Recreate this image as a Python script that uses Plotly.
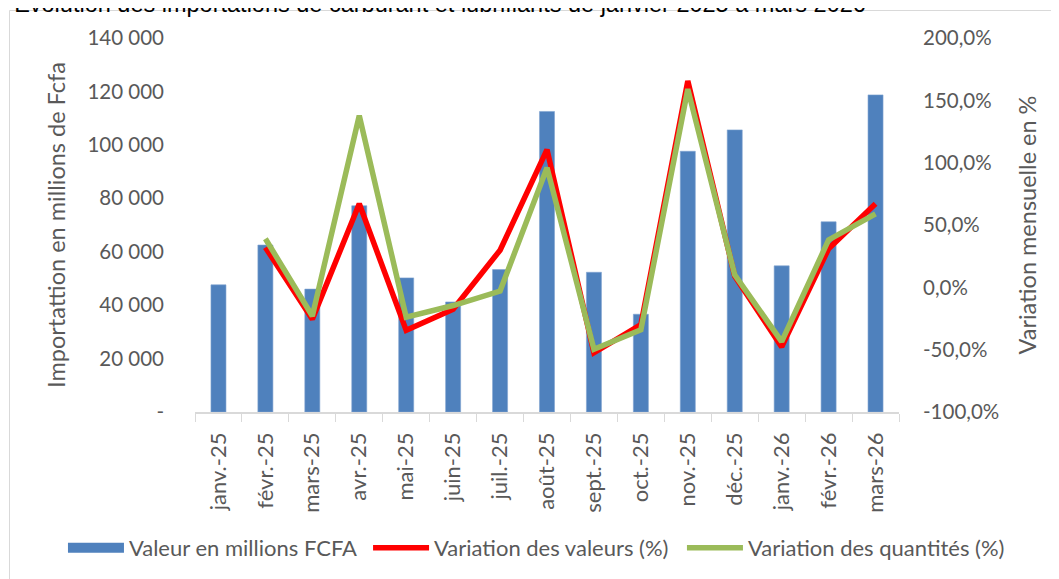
import plotly.graph_objects as go

months = ['janv.-25', 'févr.-25', 'mars-25', 'avr.-25', 'mai-25', 'juin-25', 'juil.-25',
          'août-25', 'sept.-25', 'oct.-25', 'nov.-25', 'déc.-25', 'janv.-26', 'févr.-26', 'mars-26']

# valeur des importations (millions FCFA)
valeurs = [47600, 62500, 46000, 77200, 50200, 41200, 53300,
           112500, 52300, 36600, 97600, 105600, 54700, 71200, 118700]

# variations mensuelles (%)
var_valeurs = [None, 32, -25.5, 67, -34.5, -17.5, 29.8,
               110.5, -52.5, -30, 165.5, 9, -47.8, 31, 67]
var_quantites = [None, 39, -23, 137.8, -24, -14.6, -3,
                 96, -49.6, -34, 159, 10, -43.5, 38, 59]

left_tickvals = [0, 20000, 40000, 60000, 80000, 100000, 120000, 140000]
left_ticktext = ['-', '20 000', '40 000', '60 000', '80 000', '100 000', '120 000', '140 000']
right_tickvals = [-100, -50, 0, 50, 100, 150, 200]
right_ticktext = ['-100,0%', '-50,0%', '0,0%', '50,0%', '100,0%', '150,0%', '200,0%']

BAR_COLOR = '#4F81BD'
RED = '#FF0000'
GREEN = '#9BBB59'
TEXT_COLOR = '#595959'
FONT = 'Lato'

fig = go.Figure()

fig.add_trace(go.Bar(
    x=months, y=valeurs, name='Valeur en millions FCFA',
    marker=dict(color=BAR_COLOR, line=dict(color='#7FA3D0', width=0.6)),
    width=0.32, showlegend=False
))

# legend-only entry: wide flat rectangle like the Excel legend key
fig.add_trace(go.Scatter(
    x=[None], y=[None], name='Valeur en millions FCFA',
    mode='lines', line=dict(color=BAR_COLOR, width=14), legend='legend'
))

fig.add_trace(go.Scatter(
    x=months, y=var_valeurs, name='Variation des valeurs (%)', yaxis='y2',
    mode='lines', line=dict(color=RED, width=5.5), legend='legend2'
))

fig.add_trace(go.Scatter(
    x=months, y=var_quantites, name='Variation des quantités (%)', yaxis='y2',
    mode='lines', line=dict(color=GREEN, width=5.5), legend='legend3'
))

# one legend per entry so the three sit on a single row like the original
legend_style = dict(orientation='h', xref='container', yref='container',
                    xanchor='left', y=0.0674, yanchor='middle',
                    font=dict(size=22, color=TEXT_COLOR), itemwidth=56,
                    bgcolor='rgba(0,0,0,0)')

fig.update_layout(
    width=1059,
    height=579,
    margin=dict(l=187, r=168, t=30, b=175, autoexpand=False),
    paper_bgcolor='white',
    plot_bgcolor='white',
    font=dict(family=FONT, size=20, color=TEXT_COLOR),
    showlegend=True,
    legend=dict(legend_style, x=0.0519),
    legend2=dict(legend_style, x=0.340),
    legend3=dict(legend_style, x=0.6364),
    xaxis=dict(
        showline=True, linecolor='#D9D9D9', linewidth=1.5,
        ticks='outside', tickson='boundaries', ticklen=8, tickcolor='#D9D9D9',
        tickangle=-90, tickfont=dict(size=22, color=TEXT_COLOR),
        ticklabelstandoff=10,
        showgrid=False, automargin=False
    ),
    yaxis=dict(
        range=[0, 140000], tickvals=left_tickvals, ticktext=left_ticktext,
        tickfont=dict(size=20.5, color=TEXT_COLOR),
        showgrid=False, zeroline=False, showline=False, automargin=False,
        ticklabelstandoff=30,
        title=dict(text='Importattion en millions de Fcfa', font=dict(size=23.5, color=TEXT_COLOR), standoff=15)
    ),
    yaxis2=dict(
        range=[-100, 200], tickvals=right_tickvals, ticktext=right_ticktext,
        tickfont=dict(size=20.5, color=TEXT_COLOR),
        overlaying='y', side='right', automargin=False,
        showgrid=False, zeroline=False, showline=False,
        ticklabelstandoff=23,
        title=dict(text='Variation mensuelle en %', font=dict(size=23.5, color=TEXT_COLOR), standoff=21)
    ),
    annotations=[dict(
        text='5: Évolution des importations de carburant et lubrifiants de janvier 2025 à mars 2026',
        xref='paper', yref='paper', x=0.956, y=1.0505, xanchor='right', yanchor='bottom',
        showarrow=False, font=dict(family='Liberation Sans', size=23.5, color='black')
    )],
    shapes=[dict(
        type='rect', xref='paper', yref='paper',
        x0=-0.2635, x1=1.4, y0=-0.6, y1=1.0735,
        line=dict(color='#D9D9D9', width=1), layer='below'
    )]
)

fig.write_html("out.html")
